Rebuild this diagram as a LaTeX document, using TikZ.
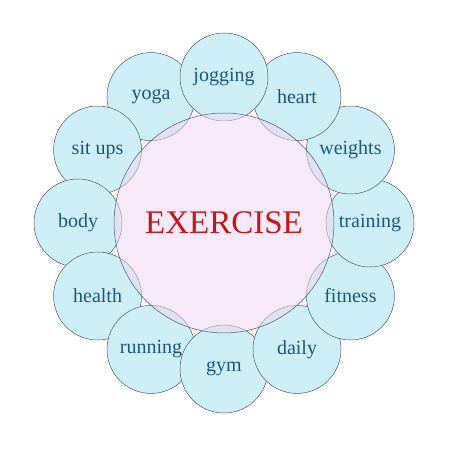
\documentclass[tikz,border=0pt]{standalone}
\usepackage{fontspec}
\setmainfont{Liberation Serif}
\usetikzlibrary{positioning,calc}
\definecolor{bubblecyan}{HTML}{CFEFF8}
\definecolor{hubpink}{HTML}{EFD5F1}
\definecolor{wordblue}{HTML}{1E5676}
\definecolor{titlered}{HTML}{C4161C}
\definecolor{rimgray}{HTML}{4E5862}

\begin{document}
\begin{tikzpicture}[x=1pt,y=-1pt,
    rim/.style={draw=rimgray,line width=0.5pt},
    bubble/.style={circle,minimum size=88pt,inner sep=0pt,fill=bubblecyan,rim,
        text=wordblue,font=\fontsize{20}{20}\selectfont}]
    \useasboundingbox (0,0) rectangle (450,470);
    \coordinate (c) at (224,223);

    % the twelve words round the hub, each one laid over the one before
    \foreach \i/\word in {12/yoga,11/sit ups,10/body,9/health,8/running,7/gym,6/daily,5/fitness,4/training,3/weights,2/heart,1/jogging}
        \node[bubble] (w\i) at ($(c)+({30*(\i-1)-90}:146)$) {\word};

    \node[circle,minimum size=220pt,fill=hubpink,fill opacity=0.5,rim,
        text=titlered,text opacity=1,font=\fontsize{33}{33}\selectfont] (hub) at (c) {EXERCISE};
\end{tikzpicture}
\end{document}
